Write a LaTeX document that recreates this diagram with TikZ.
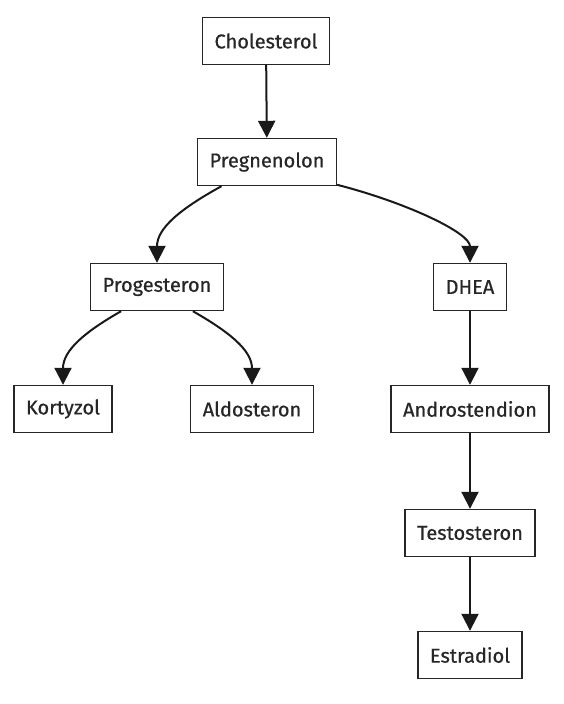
\documentclass[tikz,border=0pt]{standalone}
\usepackage{fontspec}
\setsansfont{Fira Sans}[UprightFeatures={FakeBold=0.6}]
\usetikzlibrary{arrows.meta}

\begin{document}
\begin{tikzpicture}[x=1pt,y=-1pt,
  hormone/.style={draw=black!85,line width=1.4pt,fill=white,text=black!85,font=\sffamily\fontsize{20}{22}\selectfont,minimum height=47pt,inner xsep=12pt},
  conv/.style={line width=2pt,draw=black!90,-{Triangle[length=17pt,width=17pt]}}]
  \useasboundingbox (0,0) rectangle (564,704);
  \node[hormone] (chol) at (266,41) {Cholesterol};
  \node[hormone] (preg) at (267,162) {Pregnenolon};
  \node[hormone] (prog) at (157,287) {Progesteron};
  \node[hormone] (dhea) at (470,287) {DHEA};
  \node[hormone] (kort) at (63,409) {Kortyzol};
  \node[hormone] (aldo) at (252,409) {Aldosteron};
  \node[hormone] (andr) at (470,409) {Androstendion};
  \node[hormone] (test) at (470,533) {Testosteron};
  \node[hormone] (estr) at (470,655) {Estradiol};
  % pathway
  \draw[conv] (chol) -- (preg);
  \draw[conv] (preg.-152) .. controls +(-40,22) and +(0,-35) .. (prog.north);
  \draw[conv] (preg.-18) .. controls +(70,18) and +(0,-30) .. (dhea.north);
  \draw[conv] (prog.-146) .. controls +(-35,20) and +(0,-35) .. (kort.north);
  \draw[conv] (prog.-34) .. controls +(35,20) and +(0,-35) .. (aldo.north);
  \draw[conv] (dhea) -- (andr);
  \draw[conv] (andr) -- (test);
  \draw[conv] (test) -- (estr);
\end{tikzpicture}
\end{document}
